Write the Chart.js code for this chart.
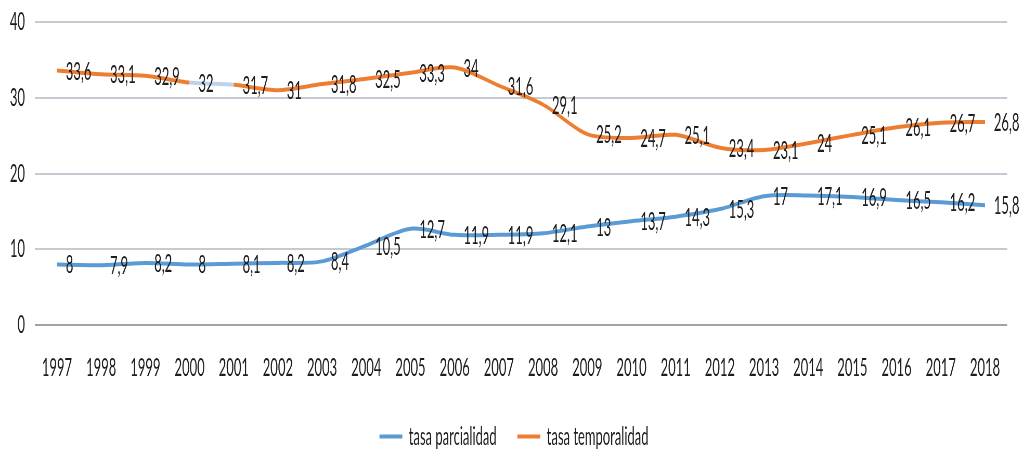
<!DOCTYPE html>
<html>
<head>
<meta charset="utf-8">
<title>Tasa de parcialidad y temporalidad</title>
<script src="https://cdn.jsdelivr.net/npm/chart.js@4.4.1/dist/chart.umd.min.js"></script>
<style>
  html, body { margin: 0; padding: 0; background: #ffffff; overflow: hidden; }
  #wrap { width: 1024px; height: 453px; overflow: hidden; position: relative; }
  /* the chart is laid out on a wide canvas and condensed horizontally */
  #c { transform: scaleX(0.52006); transform-origin: 0 0; display: block; }
</style>
</head>
<body>
<div id="wrap"><canvas id="c" width="1969" height="453"></canvas></div>
<script>
const years = ['1997','1998','1999','2000','2001','2002','2003','2004','2005','2006','2007',
               '2008','2009','2010','2011','2012','2013','2014','2015','2016','2017','2018'];
const tasaParcialidad = [8, 7.9, 8.2, 8, 8.1, 8.2, 8.4, 10.5, 12.7, 11.9, 11.9,
                         12.1, 13, 13.7, 14.3, 15.3, 17, 17.1, 16.9, 16.5, 16.2, 15.8];
const tasaTemporalidad = [33.6, 33.1, 32.9, 32, 31.7, 31, 31.8, 32.5, 33.3, 34, 31.6,
                          29.1, 25.2, 24.7, 25.1, 23.4, 23.1, 24, 25.1, 26.1, 26.7, 26.8];
const yTicks = [0, 10, 20, 30, 40];

const FONT = 'Lato, "Liberation Sans", sans-serif';
const TEXT = '#1e1e1e';
const BLUE = '#5B9BD5';
const ORANGE = '#ED7D31';

// value labels to the right of every point, decimal comma
const valueLabels = {
  id: 'valueLabels',
  afterDatasetsDraw(chart) {
    const ctx = chart.ctx;
    ctx.save();
    ctx.font = '25px ' + FONT;
    ctx.fillStyle = TEXT;
    ctx.textAlign = 'left';
    ctx.textBaseline = 'middle';
    chart.data.datasets.forEach((ds, di) => {
      const meta = chart.getDatasetMeta(di);
      meta.data.forEach((pt, i) => {
        const txt = String(ds.data[i]).replace('.', ',');
        ctx.fillText(txt, pt.x + 17, pt.y + 1);
      });
    });
    ctx.restore();
  }
};

// the legend row counts a trailing gap; shift it back to the true centre
const centreLegend = {
  id: 'centreLegend',
  afterLayout(chart) {
    const lg = chart.legend;
    if (!lg) return;
    const gap = lg.options.labels.padding / 2;
    lg.left += gap;
    lg.right += gap;
  }
};

new Chart(document.getElementById('c'), {
  type: 'line',
  data: {
    labels: years,
    datasets: [
      {
        label: 'tasa parcialidad',
        data: tasaParcialidad,
        borderColor: BLUE,
        backgroundColor: BLUE,
        borderWidth: 4,
        pointRadius: 0,
        tension: 0.3,
        fill: false
      },
      {
        label: 'tasa temporalidad',
        data: tasaTemporalidad,
        borderColor: ORANGE,
        backgroundColor: ORANGE,
        borderWidth: 4,
        pointRadius: 0,
        tension: 0.3,
        fill: false,
        segment: {
          borderColor: c => (c.p0DataIndex === 3 ? '#BDD3EA' : undefined)
        }
      }
    ]
  },
  options: {
    responsive: false,
    animation: false,
    devicePixelRatio: 1,
    layout: { padding: { top: 22, right: 32.5, bottom: -6, left: 0 } },
    scales: {
      x: {
        type: 'category',
        offset: true,
        grid: { display: false, drawTicks: false },
        border: { display: false },
        ticks: {
          font: { family: FONT, size: 25 },
          color: TEXT,
          padding: 28,
          autoSkip: false,
          maxRotation: 0
        },
        afterFit(scale) { scale.height = 59; }
      },
      y: {
        min: 0,
        max: 40,
        afterBuildTicks(scale) { scale.ticks = yTicks.map(v => ({ value: v })); },
        grid: {
          color: c => (c.tick && c.tick.value === 0 ? '#A3A3A3' : '#C3CAD2'),
          lineWidth: 2,
          drawTicks: false
        },
        border: { display: false },
        ticks: {
          font: { family: FONT, size: 25 },
          color: TEXT,
          padding: 19
        },
        afterFit(scale) {
          scale.width = 67;
          // only half a label of headroom above the top tick
          scale.paddingTop = 15;
          scale.paddingBottom = 15;
        }
      }
    },
    plugins: {
      legend: {
        position: 'bottom',
        labels: {
          font: { family: FONT, size: 25 },
          color: TEXT,
          boxWidth: 44,
          boxHeight: 4,
          padding: 40,
          generateLabels(chart) {
            return chart.data.datasets.map((ds, i) => ({
              text: ds.label,
              fillStyle: ds.borderColor,
              strokeStyle: ds.borderColor,
              lineWidth: 0,
              hidden: false,
              datasetIndex: i,
              fontColor: TEXT
            }));
          }
        }
      },
      tooltip: { enabled: false }
    }
  },
  plugins: [valueLabels, centreLegend]
});
</script>
</body>
</html>
